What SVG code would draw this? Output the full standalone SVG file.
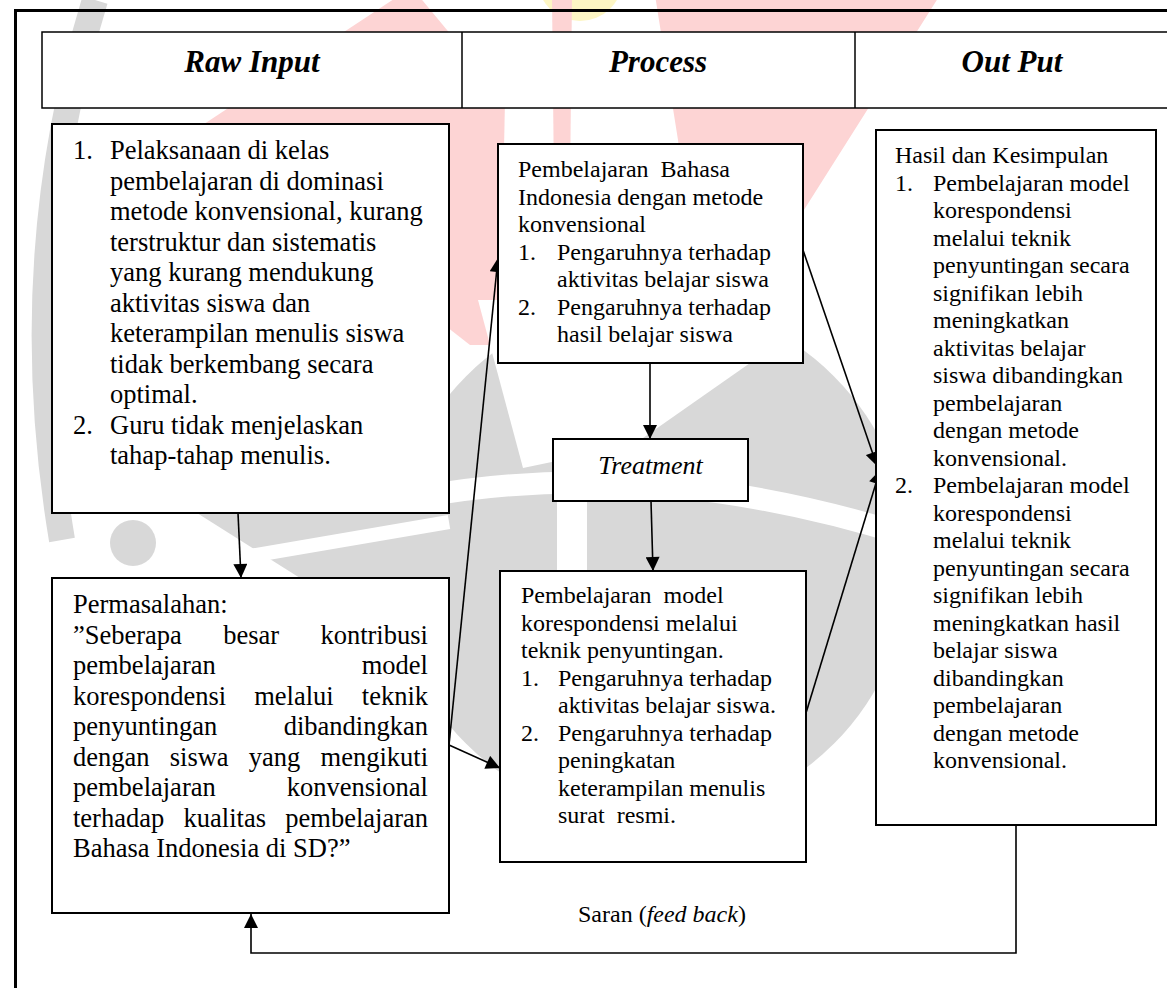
<svg xmlns="http://www.w3.org/2000/svg" width="1167" height="988" viewBox="0 0 1167 988">
<style>
  text { font-family: "Liberation Serif", "Times New Roman", serif; fill: #000; }
  .h { font-size: 31px; font-weight: bold; font-style: italic; text-anchor: middle; }
  .big { font-size: 26.5px; }
  .sm { font-size: 24px; }
  .box { fill: #fff; stroke: #000; stroke-width: 2; }
  .hdr { fill: #fff; stroke: #000; stroke-width: 1.5; }
  .con { fill: none; stroke: #000; stroke-width: 1.6; }
  .wm-g { fill: #d8d8d8; }
  .wm-p { fill: #fdd4d4; }
</style>
<defs>
  <marker id="ah" viewBox="0 0 10 10" refX="10" refY="5" markerWidth="15" markerHeight="14" markerUnits="userSpaceOnUse" orient="auto">
    <path d="M0,0 L10,5 L0,10 z" fill="#000"/>
  </marker>
</defs>
<rect width="1167" height="988" fill="#fff"/>
<g id="watermark">
  <circle cx="580" cy="-22" r="43" fill="#fdf6c4"/>
  <polygon class="wm-p" points="195,130 400,-5 418,-5 505,100 500,345 470,345"/>
  <polygon class="wm-p" points="552,-5 572,-5 568,378 556,378"/>
  <polygon class="wm-p" points="655,-5 940,-5 790,232 700,330 678,140"/>
  <circle class="wm-g" cx="650" cy="560" r="260"/>
  <polygon points="478,300 840,300 633,445 523,468" fill="#fff"/>
  <path d="M 420 497 Q 650 455 905 535" stroke="#fff" stroke-width="22" fill="none"/>
  <rect x="557" y="495" width="30" height="80" fill="#fff"/>
  <polygon class="wm-g" points="197,513 449,513 449,578 300,578"/>
  <path d="M 250 556 L 449 522" stroke="#fff" stroke-width="14" fill="none"/>
  <circle class="wm-g" cx="133" cy="543" r="23"/>
  <path d="M 95 0 Q 15 260 62 540" stroke="#d8d8d8" stroke-width="26" fill="none"/>
</g>
<g id="frame">
  <path d="M 15.5 988 L 15.5 10.5 L 1167 10.5" fill="none" stroke="#000" stroke-width="3"/>
</g>
<g id="header">
  <rect class="hdr" x="42" y="32" width="1140" height="76"/>
  <line x1="462" y1="32" x2="462" y2="108" stroke="#000" stroke-width="1.5"/>
  <line x1="855" y1="32" x2="855" y2="108" stroke="#000" stroke-width="1.5"/>
  <text class="h" x="252" y="72">Raw Input</text>
  <text class="h" x="658" y="72">Process</text>
  <text class="h" x="1012" y="72">Out Put</text>
</g>
<g id="connectors">
  <line class="con" x1="238" y1="513" x2="241" y2="578" marker-end="url(#ah)"/>
  <line class="con" x1="449" y1="745" x2="498" y2="258" marker-end="url(#ah)"/>
  <line class="con" x1="449" y1="745" x2="500" y2="768" marker-end="url(#ah)"/>
  <line class="con" x1="650" y1="363" x2="650" y2="439" marker-end="url(#ah)"/>
  <line class="con" x1="651" y1="501" x2="653" y2="571" marker-end="url(#ah)"/>
  <line class="con" x1="803" y1="250" x2="877" y2="466" marker-end="url(#ah)"/>
  <line class="con" x1="806" y1="713" x2="880" y2="470" marker-end="url(#ah)"/>
  <polyline class="con" points="1016,825 1016,953 251,953 251,914" marker-end="url(#ah)"/>
  <text class="sm" x="578" y="922">Saran (<tspan font-style="italic">feed back</tspan>)</text>
</g>
<g id="raw-input">
  <rect class="box" x="52" y="124" width="397" height="389"/>
  <g class="big">
    <text x="73" y="159">1.</text>
    <text x="110" y="159">Pelaksanaan di kelas</text>
    <text x="110" y="189.5">pembelajaran di dominasi</text>
    <text x="110" y="220">metode konvensional, kurang</text>
    <text x="110" y="250.5">terstruktur dan sistematis</text>
    <text x="110" y="281">yang kurang mendukung</text>
    <text x="110" y="311.5">aktivitas siswa dan</text>
    <text x="110" y="342">keterampilan menulis siswa</text>
    <text x="110" y="372.5">tidak berkembang secara</text>
    <text x="110" y="403">optimal.</text>
    <text x="73" y="433.5">2.</text>
    <text x="110" y="433.5">Guru tidak menjelaskan</text>
    <text x="110" y="464">tahap-tahap menulis.</text>
  </g>
</g>
<g id="permasalahan">
  <rect class="box" x="52" y="578" width="397" height="335"/>
  <g class="big">
    <text x="73" y="613">Permasalahan:</text>
    <text x="73" y="643.5" word-spacing="34.7">”Seberapa besar kontribusi</text>
    <text x="73" y="674" word-spacing="139.4">pembelajaran model</text>
    <text x="73" y="704.5" word-spacing="21.5">korespondensi melalui teknik</text>
    <text x="73" y="735" word-spacing="59.8">penyuntingan dibandingkan</text>
    <text x="73" y="765.5" word-spacing="13.6">dengan siswa yang mengikuti</text>
    <text x="73" y="796" word-spacing="64.3">pembelajaran konvensional</text>
    <text x="73" y="826.5" word-spacing="12.7">terhadap kualitas pembelajaran</text>
    <text x="73" y="857">Bahasa Indonesia di SD?”</text>
  </g>
</g>
<g id="process-konvensional">
  <rect class="box" x="498" y="144" width="305" height="219"/>
  <g class="sm">
    <text x="518" y="177" xml:space="preserve">Pembelajaran  Bahasa</text>
    <text x="518" y="204.5">Indonesia dengan metode</text>
    <text x="518" y="232">konvensional</text>
    <text x="518" y="259.5">1.</text>
    <text x="557" y="259.5">Pengaruhnya terhadap</text>
    <text x="557" y="287">aktivitas belajar siswa</text>
    <text x="518" y="314.5">2.</text>
    <text x="557" y="314.5">Pengaruhnya terhadap</text>
    <text x="557" y="342">hasil belajar siswa</text>
  </g>
</g>
<g id="treatment">
  <rect class="box" x="553" y="439" width="195" height="62"/>
  <text x="650.5" y="474" font-size="26" font-style="italic" text-anchor="middle">Treatment</text>
</g>
<g id="process-korespondensi">
  <rect class="box" x="500" y="571" width="306" height="291"/>
  <g class="sm">
    <text x="521" y="603" xml:space="preserve">Pembelajaran  model</text>
    <text x="521" y="630.5">korespondensi melalui</text>
    <text x="521" y="658">teknik penyuntingan.</text>
    <text x="521" y="685.5">1.</text>
    <text x="558" y="685.5">Pengaruhnya terhadap</text>
    <text x="558" y="713">aktivitas belajar siswa.</text>
    <text x="521" y="740.5">2.</text>
    <text x="558" y="740.5">Pengaruhnya terhadap</text>
    <text x="558" y="768">peningkatan</text>
    <text x="558" y="795.5">keterampilan menulis</text>
    <text x="558" y="823" xml:space="preserve">surat  resmi.</text>
  </g>
</g>
<g id="output">
  <rect class="box" x="876" y="130" width="280" height="695"/>
  <g class="sm">
    <text x="895" y="163">Hasil dan Kesimpulan</text>
    <text x="895" y="190.5">1.</text>
    <text x="933" y="190.5">Pembelajaran model</text>
    <text x="933" y="218">korespondensi</text>
    <text x="933" y="245.5">melalui teknik</text>
    <text x="933" y="273">penyuntingan secara</text>
    <text x="933" y="300.5">signifikan lebih</text>
    <text x="933" y="328">meningkatkan</text>
    <text x="933" y="355.5">aktivitas belajar</text>
    <text x="933" y="383">siswa dibandingkan</text>
    <text x="933" y="410.5">pembelajaran</text>
    <text x="933" y="438">dengan metode</text>
    <text x="933" y="465.5">konvensional.</text>
    <text x="895" y="493">2.</text>
    <text x="933" y="493">Pembelajaran model</text>
    <text x="933" y="520.5">korespondensi</text>
    <text x="933" y="548">melalui teknik</text>
    <text x="933" y="575.5">penyuntingan secara</text>
    <text x="933" y="603">signifikan lebih</text>
    <text x="933" y="630.5">meningkatkan hasil</text>
    <text x="933" y="658">belajar siswa</text>
    <text x="933" y="685.5">dibandingkan</text>
    <text x="933" y="713">pembelajaran</text>
    <text x="933" y="740.5">dengan metode</text>
    <text x="933" y="768">konvensional.</text>
  </g>
</g>
</svg>
